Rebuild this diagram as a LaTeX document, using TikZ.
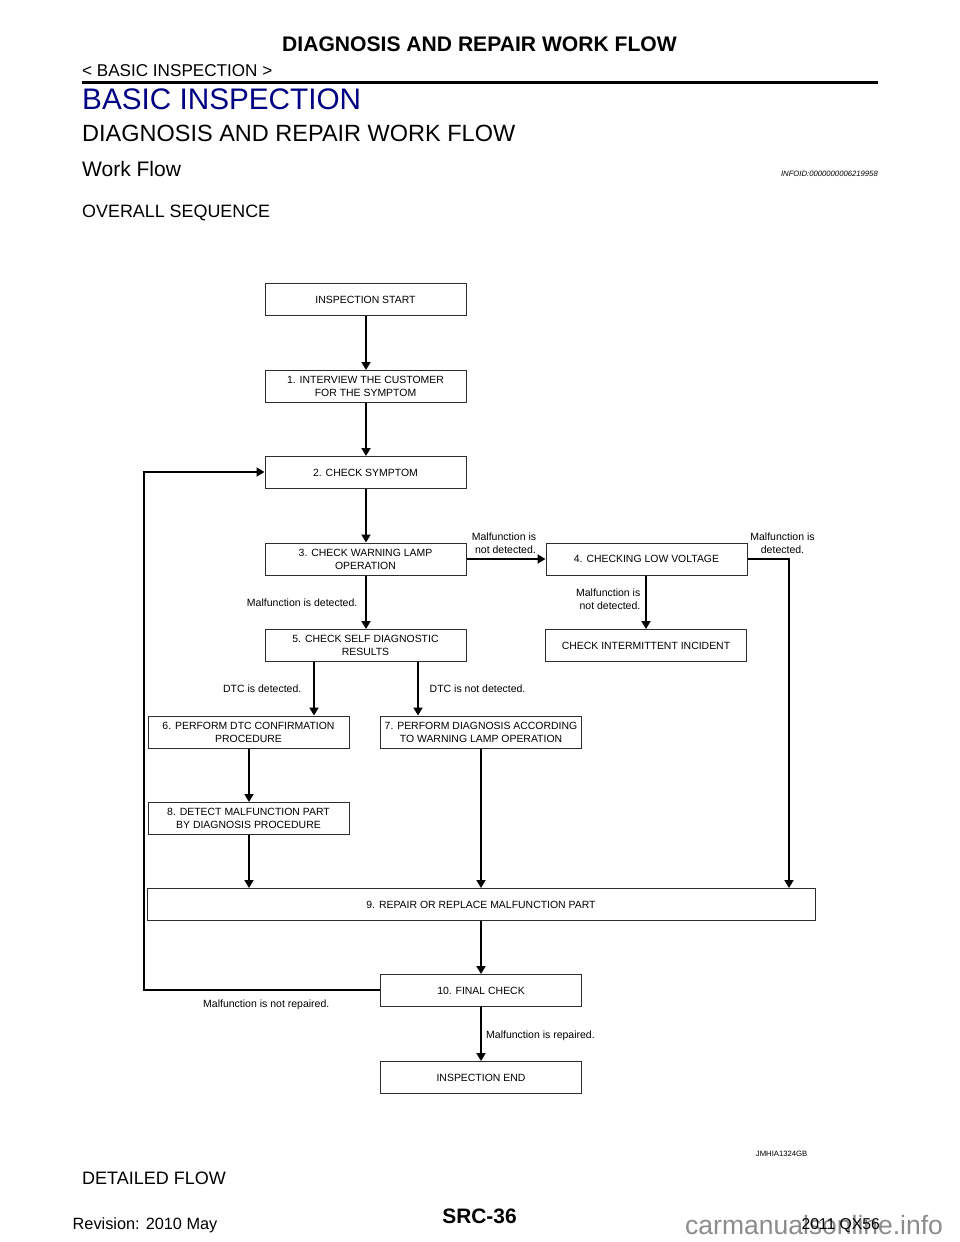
\documentclass[tikz,border=0pt]{standalone}
\usepackage{fontspec}
\setmainfont{Liberation Sans}
\usetikzlibrary{arrows.meta}
\definecolor{headblue}{RGB}{0,0,130}
\definecolor{wmgray}{RGB}{140,140,140}
\definecolor{boxline}{RGB}{45,45,45}
\tikzset{
  x=1pt,y=-1pt,
  box/.style={draw=boxline,line width=1pt,fill=white,inner sep=0pt,align=center,font=\fontsize{10.45}{12.9}\selectfont,text=black},
  flow/.style={line width=1.9pt,-{Triangle[length=8pt,width=9pt]}},
  lab/.style={inner sep=0pt,font=\fontsize{10.5}{12.9}\selectfont,align=center},
  head/.style={inner sep=0pt,anchor=base west},
  sx/.style={xshift=0.5pt}
}
\newcommand{\bx}[6]{\node[box,minimum width=#4 pt,minimum height=#5 pt] (#1) at (#2,#3) {#6};}
\begin{document}
\begin{tikzpicture}
\useasboundingbox (0,0) rectangle (960,1242);
\fill[white] (0,0) rectangle (960,1242);
% page header
\node[inner sep=0pt,anchor=base,font=\fontsize{21.1}{24}\selectfont\bfseries] (title) at (479.5,51) {DIAGNOSIS AND REPAIR WORK FLOW};
\node[head,font=\fontsize{17.1}{20}\selectfont] (crumb) at (82,76) {< BASIC INSPECTION >};
\coordinate (ruleL) at (82,82.5); \coordinate (ruleR) at (878,82.5);
\draw[line width=2.4pt] (ruleL) -- (ruleR);
\node[head,font=\fontsize{29.7}{34}\selectfont,text=headblue] (sec) at (82,109) {BASIC INSPECTION};
\node[head,font=\fontsize{23.5}{28}\selectfont] (sub) at (82,141) {DIAGNOSIS AND REPAIR WORK FLOW};
\node[head,font=\fontsize{21}{24}\selectfont] (wf) at (82,176) {Work Flow};
\node[inner sep=0pt,anchor=base east,font=\fontsize{7.7}{9}\selectfont\itshape] (info) at (878,176.5) {INFOID:0000000006219958};
\node[head,font=\fontsize{17.9}{21}\selectfont] (ov) at (82,217.5) {OVERALL SEQUENCE};
% boxes
\bx{start}{365.5}{299.5}{201}{32}{INSPECTION START}
\bx{s1}{365.5}{386.5}{201}{32}{1. INTERVIEW THE CUSTOMER\\FOR THE SYMPTOM}
\bx{s2}{365.5}{472.5}{201}{32}{2. CHECK SYMPTOM}
\bx{s3}{365.5}{559}{201}{32}{3. CHECK WARNING LAMP\\OPERATION}
\bx{s4}{646.5}{559}{201}{32}{4. CHECKING LOW VOLTAGE}
\bx{s5}{365.5}{645.5}{201}{32}{5. CHECK SELF DIAGNOSTIC\\RESULTS}
\bx{cii}{646}{645.5}{201}{32}{CHECK INTERMITTENT INCIDENT}
\bx{s6}{248.5}{732}{201}{32}{6. PERFORM DTC CONFIRMATION\\PROCEDURE}
\bx{s7}{481}{732}{201}{32}{7. PERFORM DIAGNOSIS ACCORDING\\TO WARNING LAMP OPERATION}
\bx{s8}{248.5}{818.5}{201}{32}{8. DETECT MALFUNCTION PART\\BY DIAGNOSIS PROCEDURE}
\bx{s9}{481}{904.5}{668}{32}{9. REPAIR OR REPLACE MALFUNCTION PART}
\bx{s10}{481}{990.5}{201}{32}{10. FINAL CHECK}
\bx{end}{481}{1077.5}{201}{32}{INSPECTION END}
% connectors
\draw[flow] ([sx]start.south) -- ([sx]s1.north);
\draw[flow] ([sx]s1.south) -- ([sx]s2.north);
\draw[flow] ([sx]s2.south) -- ([sx]s3.north);
\draw[flow] ([sx]s3.south) -- ([sx]s5.north);
\draw[flow] (s3.east) -- (s4.west);
\draw[flow] (s4.south -| cii) -- (cii);
\draw[flow] (s5.south -| s6.east) ++(-35.5,0) coordinate (a6) (a6) -- (a6 |- s6.north);
\draw[flow] (s5.south -| s7.west) ++(38,0) coordinate (a7) (a7) -- (a7 |- s7.north);
\draw[flow] ([sx]s6.south) -- ([sx]s8.north);
\draw[flow] ([sx]s8.south) -- ([sx]s8.south |- s9.north);
\draw[flow] (s7) -- (s7 |- s9.north);
\coordinate (r4) at (789,559);
\draw[flow] (s4.east) -- (r4) -- (r4 |- s9.north);
\draw[flow] (s9) -- (s10);
\draw[flow] (s10) -- (end);
\coordinate (lb) at (144,990);\coordinate (lt) at (144,472);
\draw[flow] (s10.west |- lb) -- (lb) -- (lt) -- (lt -| s2.west);
% labels
\node[lab] (l1) at (504,543) {Malfunction is\\\ not detected.};
\node[lab] (l2) at (782.5,543) {Malfunction is\\detected.};
\node[lab,anchor=east] (l3) at (357.5,602.5) {Malfunction is detected.};
\node[lab,align=right,anchor=east] (l4) at (640.5,599.5) {Malfunction is\hspace{2.5pt}\\not detected.};
\node[lab,anchor=east] (l5) at (301.5,689) {DTC is detected.};
\node[lab,anchor=west] (l6) at (429.5,689) {DTC is not detected.};
\node[lab,anchor=east] (l7) at (329.5,1005) {Malfunction is not repaired.};
\node[lab,anchor=west] (l8) at (486,1035.5) {Malfunction is repaired.};
\node[inner sep=0pt,anchor=base east,font=\fontsize{7.7}{9}\selectfont] (code) at (807.5,1156) {JMHIA1324GB};
% footer
\node[head,font=\fontsize{18}{21}\selectfont] (det) at (82,1184.5) {DETAILED FLOW};
\node[inner sep=0pt,anchor=base west,font=\fontsize{26.5}{30}\selectfont,text=wmgray] (wm) at (685,1234) {carmanualsonline.info};
\node[inner sep=0pt,anchor=base,font=\fontsize{20.9}{24}\selectfont\bfseries] (pg) at (479.5,1223) {SRC-36};
\node[head,font=\fontsize{16.3}{19}\selectfont] (rev) at (72.5,1229) {Revision: 2010 May};
\node[inner sep=0pt,anchor=base east,font=\fontsize{15.7}{19}\selectfont] (yr) at (880,1229) {2011 QX56};
\end{tikzpicture}
\end{document}
